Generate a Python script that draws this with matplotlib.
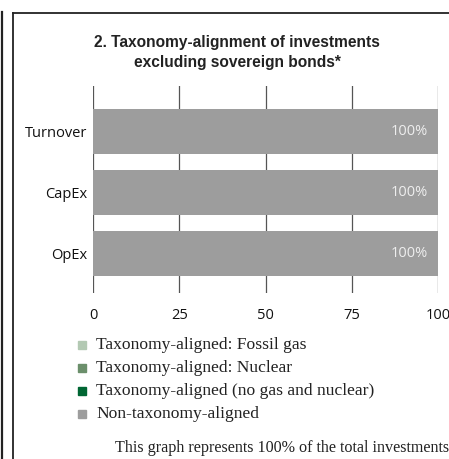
import matplotlib.pyplot as plt
from matplotlib.lines import Line2D
from matplotlib.patches import Rectangle

categories = ["Turnover", "CapEx", "OpEx"]
non_aligned = [100, 100, 100]
bar_labels = ["100%", "100%", "100%"]
ticks = [0, 25, 50, 75, 100]

legend_labels = [
    "Taxonomy-aligned: Fossil gas",
    "Taxonomy-aligned: Nuclear",
    "Taxonomy-aligned (no gas and nuclear)",
    "Non-taxonomy-aligned",
]
legend_colors = ["#b3c9b3", "#6b8f6b", "#006633", "#9d9d9d"]

W, H = 449, 459
fig = plt.figure(figsize=(W / 100, H / 100), dpi=100)

# frame lines around the panel
fig.add_artist(Line2D([2 / W, 2 / W], [0, 1 - 12 / H], color="#222222", lw=1.6))
fig.add_artist(Line2D([13 / W, 13 / W], [0, 1 - 13 / H], color="#222222", lw=1.3))
fig.add_artist(Line2D([13 / W, 1], [1 - 13 / H, 1 - 13 / H], color="#222222", lw=1.3))

ax = fig.add_axes([93 / W, 1 - 293 / H, (438 - 93) / W, (293 - 86) / H])
ypos = [2, 1, 0]
ax.barh(ypos, non_aligned, height=0.74, color="#9d9d9d", zorder=2)
for y, lab in zip(ypos, bar_labels):
    ax.text(97, y, lab, ha="right", va="center", color="#eeeeee",
            fontsize=10.5, family="Open Sans")
for t in ticks:
    ax.axvline(t, color="#555555", lw=0.9, zorder=1)
ax.set_xlim(0, 100)
ax.set_ylim(-0.65, 2.75)
ax.set_yticks(ypos)
ax.set_yticklabels(categories, family="Open Sans", fontsize=10.5, color="#111111")
ax.set_xticks(ticks)
ax.set_xticklabels([str(t) for t in ticks], family="Open Sans", fontsize=10.5,
                   color="#111111")
ax.tick_params(length=0, pad=4)
ax.tick_params(axis="x", pad=11)
for s in ax.spines.values():
    s.set_visible(False)

fig.text(237 / W, 1 - 42 / H, "2. Taxonomy-alignment of investments",
         ha="center", va="center", fontsize=11.2, fontweight="bold",
         family="Liberation Sans", color="#222222")
fig.text(237 / W, 1 - 62 / H, "excluding sovereign bonds*",
         ha="center", va="center", fontsize=11.2, fontweight="bold",
         family="Liberation Sans", color="#222222")

for i, (lab, col) in enumerate(zip(legend_labels, legend_colors)):
    yc = 1 - (345 + i * 23) / H
    fig.add_artist(Rectangle((78 / W, yc - 4 / H), 8 / W, 8 / H,
                             color=col, transform=fig.transFigure))
    fig.text(96 / W, yc, lab, ha="left", va="center", fontsize=12.6,
             family="Liberation Serif", color="#222222")

fig.text(115 / W, 1 - 448 / H, "This graph represents 100% of the total investments",
         ha="left", va="center", fontsize=11.6, family="Liberation Serif",
         color="#222222")

fig.savefig("out.png", dpi=100)
